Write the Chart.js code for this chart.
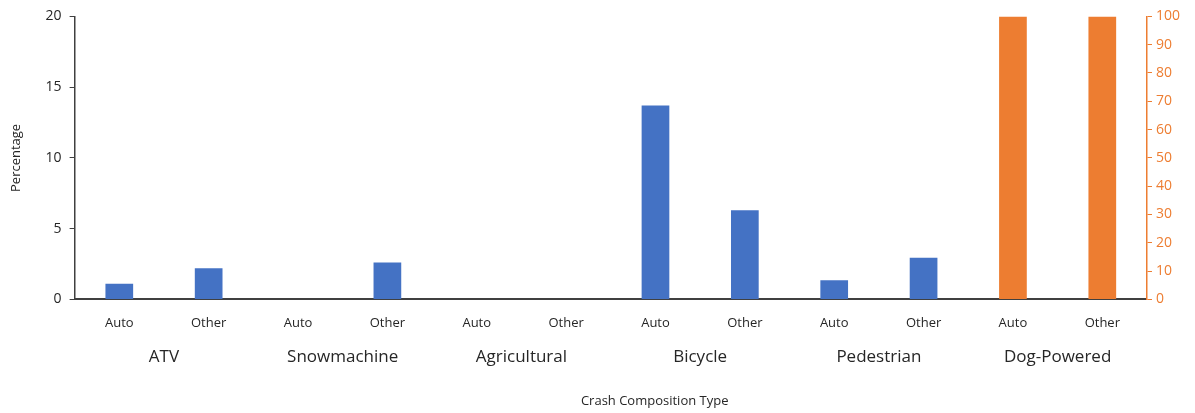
<!DOCTYPE html>
<html>
<head>
<meta charset="utf-8">
<script src="https://cdn.jsdelivr.net/npm/chart.js@4.4.0/dist/chart.umd.min.js"></script>
<style>
  html, body { margin: 0; padding: 0; background: #fff; }
  #wrap { width: 1195px; height: 413px; }
</style>
</head>
<body>
<div id="wrap"><canvas id="crash"></canvas></div>
<script>
// crash composition data
var groups = ["ATV", "Snowmachine", "Agricultural", "Bicycle", "Pedestrian", "Dog-Powered"];
var subTypes = ["Auto", "Other"];
var leftValues = [1.1, 2.2, 0, 2.6, 0, 0, 13.7, 6.3, 1.35, 2.95, null, null];
var rightValues = [null, null, null, null, null, null, null, null, null, null, 100, 100];
var leftTicks = [0, 5, 10, 15, 20];
var rightTicks = [0, 10, 20, 30, 40, 50, 60, 70, 80, 90, 100];

var labels = [];
for (var i = 0; i < groups.length; i++) {
    for (var j = 0; j < subTypes.length; j++) labels.push(subTypes[j]);
}

Chart.defaults.font.family = "'Open Sans', 'Noto Sans', sans-serif";
Chart.defaults.color = "#262626";

var ctx = document.getElementById("crash");
new Chart(ctx, {
    type: 'bar',
    data: {
        labels: labels,
        datasets: [{
            label: 'Percentage',
            data: leftValues,
            backgroundColor: "#4472C4",
            yAxisID: 'y',
            grouped: false,
            barPercentage: 0.31,
            categoryPercentage: 1
        }, {
            label: 'Dog-Powered',
            data: rightValues,
            backgroundColor: "#ED7D31",
            yAxisID: 'y1',
            grouped: false,
            barPercentage: 0.31,
            categoryPercentage: 1
        }]
    },
    options: {
        responsive: true,
        maintainAspectRatio: false,
        animation: false,
        layout: { padding: { top: 14, right: 11, left: 4, bottom: 4 } },
        plugins: { legend: { display: false }, tooltip: { enabled: false } },
        scales: {
            x: {
                position: 'bottom',
                grid: { display: false },
                border: { display: true, color: "#404040", width: 2 },
                ticks: { font: { size: 13 }, color: "#262626", padding: 8, maxRotation: 0 }
            },
            // group names under the Auto/Other pairs
            x2: {
                type: 'category',
                labels: groups,
                position: 'bottom',
                offset: true,
                grid: { display: false },
                border: { display: false },
                ticks: { font: { size: 17 }, color: "#262626", padding: 0, maxRotation: 0 },
                // leading spaces: the title sits right of the plot centre in the original
                title: { display: true, text: '                          Crash Composition Type', font: { size: 13 }, color: "#262626", padding: { top: 26, bottom: 0 } }
            },
            y: {
                position: 'left',
                min: 0,
                max: 20,
                afterBuildTicks: function (axis) { axis.ticks = leftTicks.map(function (v) { return { value: v }; }); },
                grid: { drawOnChartArea: false, drawTicks: true, tickLength: 5, color: "#404040" },
                border: { display: true, color: "#404040", width: 1.5 },
                ticks: { font: { size: 14 }, color: "#262626", padding: 8 },
                title: { display: true, text: 'Percentage', font: { size: 13 }, color: "#262626", padding: { bottom: 14 } }
            },
            y1: {
                position: 'right',
                min: 0,
                max: 100,
                afterBuildTicks: function (axis) { axis.ticks = rightTicks.map(function (v) { return { value: v }; }); },
                grid: { drawOnChartArea: false, drawTicks: true, tickLength: 5, color: "#ED7D31" },
                border: { display: true, color: "#ED7D31", width: 1.5 },
                ticks: { font: { size: 14 }, color: "#ED7D31", padding: 4 }
            }
        }
    }
});
</script>
</body>
</html>
